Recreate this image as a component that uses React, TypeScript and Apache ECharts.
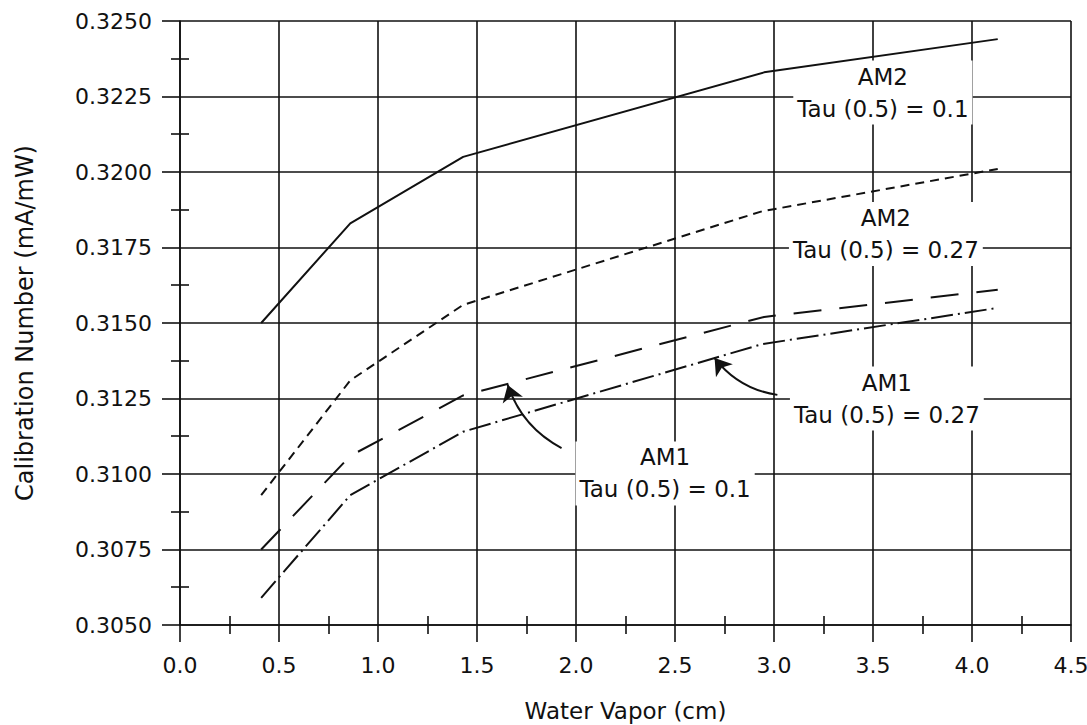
import React, { useEffect, useRef } from "react";
import * as echarts from "echarts";

// ---- data ----
const xMin = 0;
const xMax = 4.5;
const xStep = 0.5;
const yMin = 0.305;
const yMax = 0.325;
const yStep = 0.0025;

const am2Tau01X = [0.41, 0.86, 1.43, 2.95, 4.13];
const am2Tau01Y = [0.315, 0.3183, 0.3205, 0.3233, 0.3244];

const am2Tau027X = [0.41, 0.86, 1.43, 2.94, 4.13];
const am2Tau027Y = [0.3093, 0.3131, 0.3156, 0.3187, 0.3201];

const am1Tau01X = [0.41, 0.86, 1.43, 2.95, 4.13];
const am1Tau01Y = [0.3075, 0.3106, 0.3126, 0.3152, 0.3161];

const am1Tau027X = [0.41, 0.86, 1.43, 2.94, 4.13];
const am1Tau027Y = [0.3059, 0.3093, 0.3114, 0.3143, 0.3155];

const labelX = [3.55, 3.565, 3.57, 2.45];
const labelY = [0.32263, 0.31795, 0.3125, 0.31002];
const labelText = [
  "AM2\nTau (0.5) = 0.1",
  "AM2\nTau (0.5) = 0.27",
  "AM1\nTau (0.5) = 0.27",
  "AM1\nTau (0.5) = 0.1",
];

const arrowFromX = [1.927, 3.017];
const arrowFromY = [0.31086, 0.31262];
const arrowToX = [1.655, 2.7];
const arrowToY = [0.31295, 0.31384];

const FONT = "DejaVu Sans";
const INK = "#111";

const toPairs = (xs: number[], ys: number[]) => xs.map((x, i) => [x, ys[i]]);

export default function App() {
  const ref = useRef<HTMLDivElement>(null);

  useEffect(() => {
    if (!ref.current) return;
    const chart = echarts.init(ref.current, undefined, { renderer: "svg" });
    const line = { color: INK, width: 1.6 };

    const curve = (name: string, xs: number[], ys: number[], type: any) => ({
      name,
      type: "line",
      data: toPairs(xs, ys),
      symbol: "none",
      showSymbol: false,
      silent: true,
      z: 3,
      lineStyle: { color: INK, width: 2, type },
    });

    chart.setOption({
      animation: false,
      backgroundColor: "#fff",
      grid: {
        left: 180,
        right: 16,
        top: 21,
        bottom: 100,
        containLabel: false,
        outerBoundsMode: "none",
      },
      xAxis: [
        {
          type: "value",
          min: xMin,
          max: xMax,
          interval: xStep,
          axisLine: { show: true, onZero: false, lineStyle: line },
          axisTick: { show: true, length: 17, lineStyle: line },
          minorTick: { show: true, splitNumber: 2, length: 9, lineStyle: line },
          splitLine: { show: true, lineStyle: line },
          axisLabel: {
            formatter: (v: number) => v.toFixed(1),
            margin: 29,
            fontFamily: FONT,
            fontSize: 22,
            color: INK,
          },
          name: "Water Vapor (cm)",
          nameLocation: "middle",
          nameGap: 74,
          nameTextStyle: { fontFamily: FONT, fontSize: 23, color: INK },
        },
        {
          type: "value",
          position: "bottom",
          min: xMin,
          max: xMax,
          interval: xStep,
          axisLine: { show: false, onZero: false },
          axisTick: { show: false, inside: true },
          minorTick: { show: true, splitNumber: 2, length: 9, lineStyle: line },
          splitLine: { show: false },
          axisLabel: { show: false },
        },
      ],
      yAxis: [
        {
          type: "value",
          min: yMin,
          max: yMax,
          interval: yStep,
          axisLine: { show: true, onZero: false, lineStyle: line },
          axisTick: { show: true, length: 18, lineStyle: line },
          minorTick: { show: true, splitNumber: 2, length: 9, lineStyle: line },
          splitLine: { show: true, lineStyle: line },
          axisLabel: {
            formatter: (v: number) => v.toFixed(4),
            margin: 28,
            fontFamily: FONT,
            fontSize: 22,
            color: INK,
          },
          name: "Calibration Number (mA/mW)",
          nameLocation: "middle",
          nameGap: 143,
          nameRotate: 90,
          nameTextStyle: { fontFamily: FONT, fontSize: 24, color: INK },
        },
        {
          type: "value",
          position: "left",
          min: yMin,
          max: yMax,
          interval: yStep,
          axisLine: { show: false, onZero: false },
          axisTick: { show: false, inside: true },
          minorTick: { show: true, splitNumber: 2, length: 9, lineStyle: line },
          splitLine: { show: false },
          axisLabel: { show: false },
        },
      ],
      series: [
        curve("AM2 Tau 0.1", am2Tau01X, am2Tau01Y, "solid"),
        curve("AM2 Tau 0.27", am2Tau027X, am2Tau027Y, [9, 6]),
        curve("AM1 Tau 0.1", am1Tau01X, am1Tau01Y, [28, 18]),
        curve("AM1 Tau 0.27", am1Tau027X, am1Tau027Y, [22, 5, 2, 5]),
        {
          type: "lines",
          coordinateSystem: "cartesian2d",
          silent: true,
          z: 4,
          symbol: ["none", "arrow"],
          symbolSize: [10, 16],
          lineStyle: { color: INK, width: 2, curveness: 0.2, opacity: 1 },
          data: arrowFromX.map((x, i) => ({
            coords: [
              [x, arrowFromY[i]],
              [arrowToX[i], arrowToY[i]],
            ],
          })),
        },
      ],
    });

    const graphics = labelX.map((x, i) => {
      const [px, py] = chart.convertToPixel({ gridIndex: 0 }, [x, labelY[i]]) as number[];
      return {
        type: "text",
        x: px,
        y: py,
        z: 1,
        silent: true,
        style: {
          text: labelText[i],
          align: "center",
          verticalAlign: "middle",
          fontFamily: FONT,
          fontSize: 23,
          lineHeight: 32,
          fill: INK,
          backgroundColor: "#fff",
          padding: [0, 4],
        },
      };
    });
    chart.setOption({ graphic: graphics });

    return () => chart.dispose();
  }, []);

  return (
    <div
      ref={ref}
      style={{ position: "absolute", left: 0, top: 0, width: 1087, height: 725, background: "#fff" }}
    />
  );
}
